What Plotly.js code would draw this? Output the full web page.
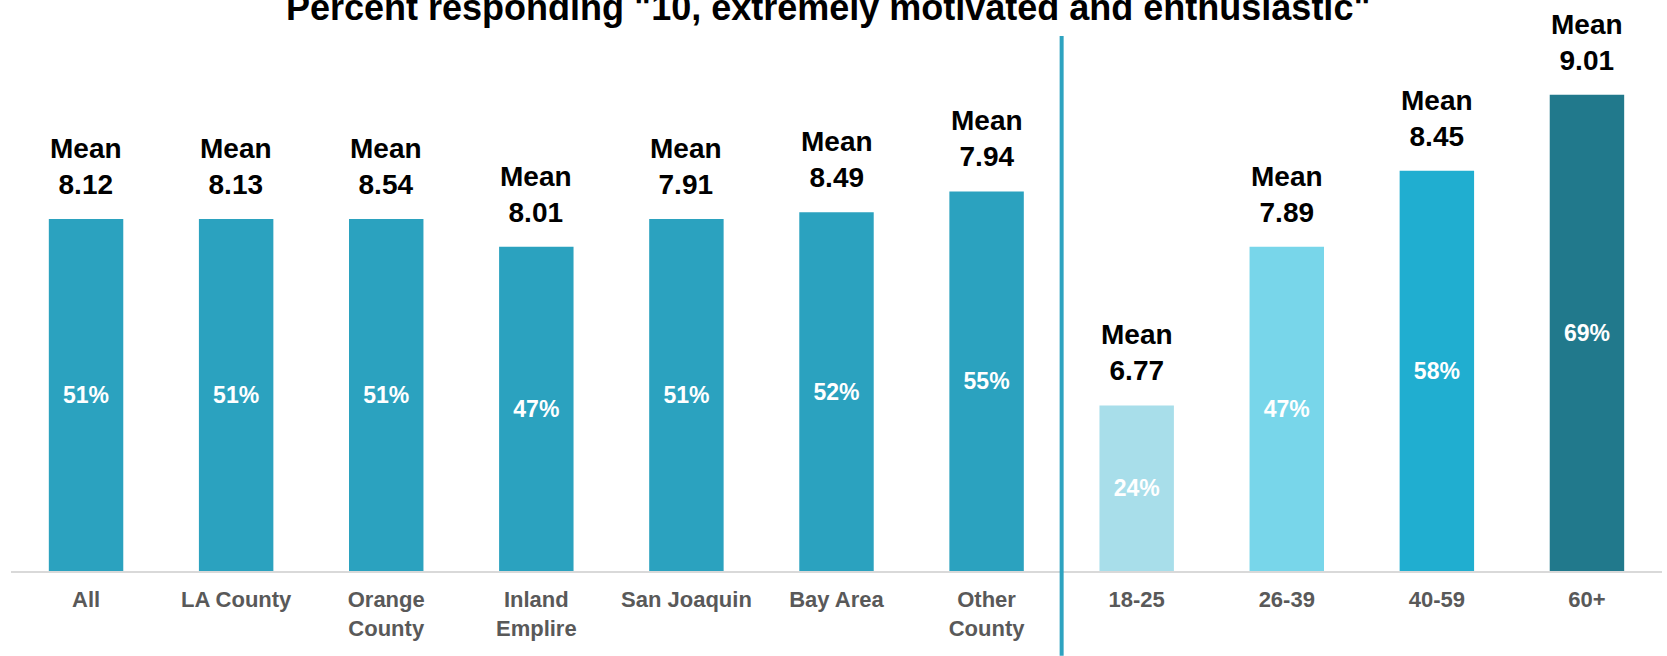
<!DOCTYPE html>
<html>
<head>
<meta charset="utf-8">
<script src="https://cdn.plot.ly/plotly-3.0.1.min.js"></script>
<style>html,body{margin:0;padding:0;background:#fff;}#chart{width:1667px;height:656px;}</style>
</head>
<body>
<div id="chart"></div>
<script>
const categories = ["All", "LA County", "Orange<br>County", "Inland<br>Emplire", "San Joaquin", "Bay Area", "Other<br>County", "18-25", "26-39", "40-59", "60+"];
const percentTen = [51, 51, 51, 47, 51, 52, 55, 24, 47, 58, 69];
const meanScores = ["8.12", "8.13", "8.54", "8.01", "7.91", "8.49", "7.94", "6.77", "7.89", "8.45", "9.01"];
const barColors = ["#2BA2BF", "#2BA2BF", "#2BA2BF", "#2BA2BF", "#2BA2BF", "#2BA2BF", "#2BA2BF", "#A8DEEA", "#78D6EA", "#20AED0", "#21798C"];
const titleText = "Percent responding \"10, extremely motivated and enthusiastic\"";

const FONT = "Liberation Sans, Arial, sans-serif";

const trace = {
  type: "bar",
  x: categories,
  y: percentTen,
  marker: {color: barColors, line: {width: 0}},
  texttemplate: "%{y}%",
  textposition: "inside",
  insidetextanchor: "middle",
  textangle: 0,
  constraintext: "none",
  textfont: {family: FONT, size: 23, color: "#ffffff", weight: "bold"},
  hoverinfo: "skip",
  cliponaxis: false
};

const annotations = categories.map((c, i) => ({
  x: c,
  y: percentTen[i],
  xref: "x",
  yref: "y",
  text: "Mean<br>" + meanScores[i],
  showarrow: false,
  yanchor: "bottom",
  yshift: 17,
  font: {family: FONT, size: 28, color: "#000000", weight: "bold"}
}));

const layout = {
  width: 1667,
  height: 656,
  paper_bgcolor: "#ffffff",
  plot_bgcolor: "#ffffff",
  margin: {l: 11, r: 5, t: 20, b: 85},
  showlegend: false,
  bargap: 0.504,
  title: {
    text: titleText,
    font: {family: FONT, size: 36, color: "#000000", weight: "bold"},
    x: 0.495,
    xanchor: "center",
    xref: "paper",
    yref: "container",
    y: 0.988,
    yanchor: "middle"
  },
  xaxis: {
    type: "category",
    showline: true,
    linecolor: "#D9D9D9",
    linewidth: 2,
    ticks: "",
    ticklabelstandoff: 8,
    showgrid: false,
    zeroline: false,
    tickfont: {family: FONT, size: 22, color: "#595959", weight: "bold"},
    fixedrange: true
  },
  yaxis: {
    range: [0, 79.85],
    visible: false,
    showgrid: false,
    zeroline: false,
    fixedrange: true
  },
  shapes: [{
    type: "line",
    xref: "x",
    yref: "paper",
    x0: 6.5, x1: 6.5,
    y0: -0.154, y1: 0.971,
    line: {color: "#2EA3C0", width: 4}
  }],
  annotations: annotations
};

Plotly.newPlot("chart", [trace], layout, {displayModeBar: false, staticPlot: true});
</script>
</body>
</html>
